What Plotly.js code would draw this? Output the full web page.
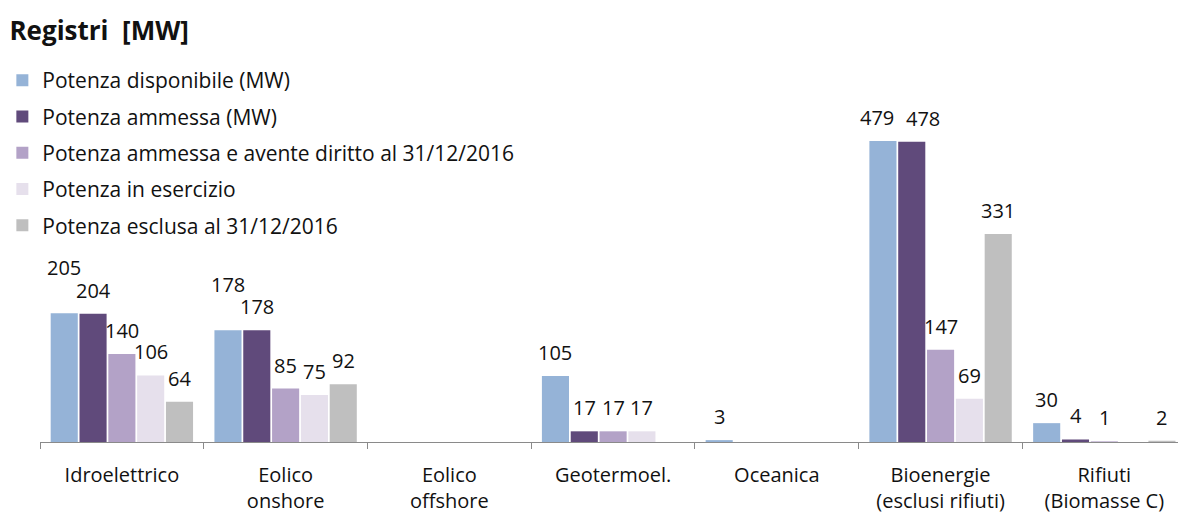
<!DOCTYPE html>
<html><head><meta charset="utf-8">
<script src="https://cdn.plot.ly/plotly-3.0.1.min.js"></script>
<style>html,body{margin:0;padding:0;background:#fff}#chart{width:1178px;height:515px}</style>
</head><body><div id="chart"></div>
<script>
// ---- data ----
const categories = ["Idroelettrico", "Eolico<br>onshore", "Eolico<br>offshore", "Geotermoel.", "Oceanica", "Bioenergie<br>(esclusi rifiuti)", "Rifiuti<br>(Biomasse C)"];
const seriesNames = ["Potenza disponibile (MW)", "Potenza ammessa (MW)", "Potenza ammessa e avente diritto al 31/12/2016", "Potenza in esercizio", "Potenza esclusa al 31/12/2016"];
const potenzaDisponibile = [205, 178, null, 105, 3, 479, 30];
const potenzaAmmessa = [204, 178, null, 17, null, 478, 4];
const potenzaAmmessaAvente = [140, 85, null, 17, null, 147, 1];
const potenzaInEsercizio = [106, 75, null, 17, null, 69, null];
const potenzaEsclusa = [64, 92, null, null, null, 331, 2];

// ---- style ----
const colors = ["#95B3D7", "#604A7B", "#B3A2C7", "#E6E0EC", "#BFBFBF"];
const FONT = "'Open Sans', 'Noto Sans', sans-serif";
const BARGAP = 0.12;
// manual label placement tweaks (pixels): key "category,series" -> [dx, dy]
const labelNudge = {"0,0": [0, 22], "1,0": [0, 22], "5,0": [-6, 0], "5,1": [11, 0]};

const seriesValues = [potenzaDisponibile, potenzaAmmessa, potenzaAmmessaAvente, potenzaInEsercizio, potenzaEsclusa];
const nS = seriesValues.length;

const traces = seriesValues.map((vals, i) => ({
  type: "bar",
  name: seriesNames[i],
  x: categories,
  y: vals,
  marker: {color: colors[i], line: {width: 0}},
  legendgroup: "g" + i,
  hoverinfo: "skip"
}));

const annotations = [];
const slot = (1 - BARGAP) / nS;
seriesValues.forEach((vals, s) => {
  vals.forEach((v, c) => {
    if (v === null || v === undefined) return;
    const n = labelNudge[c + "," + s] || [0, 0];
    annotations.push({
      x: c + (s - (nS - 1) / 2) * slot, xref: "x",
      y: v, yref: "y",
      text: String(v), showarrow: false,
      xanchor: "center", yanchor: "bottom",
      xshift: n[0], yshift: 8 + n[1],
      font: {family: FONT, size: 20, color: "#111"}
    });
  });
});

const layout = {
  width: 1178, height: 515,
  paper_bgcolor: "#fff", plot_bgcolor: "#fff",
  margin: {l: 40, r: 0, t: 65, b: 73, pad: 0, autoexpand: false},
  font: {family: FONT, size: 20, color: "#111"},
  title: {text: "<b>Registri&nbsp; [MW]</b>", font: {family: FONT, size: 26, color: "#111"},
          xref: "container", x: 0.008, xanchor: "left", yref: "container", y: 1 - 31 / 515, yanchor: "middle"},
  barmode: "group", bargap: BARGAP, bargroupgap: 0.06,
  showlegend: true,
  legend: {orientation: "v", xref: "container", x: 0.002, xanchor: "left", yref: "container", y: 1 - 60 / 515, yanchor: "top",
           font: {family: FONT, size: 21, color: "#111"}, tracegroupgap: 6, bgcolor: "rgba(0,0,0,0)", traceorder: "grouped"},
  xaxis: {type: "category", range: [-0.5, 6.45], showline: true, linecolor: "#8a8a8a", linewidth: 1,
          ticks: "outside", tickson: "boundaries", ticklen: 6, tickcolor: "#8a8a8a", tickwidth: 1, tickangle: 0,
          showgrid: false, zeroline: false, fixedrange: true, ticklabelstandoff: 15,
          tickfont: {family: FONT, size: 20, color: "#111"}},
  yaxis: {range: [0, 600], visible: false, showgrid: false, zeroline: false, fixedrange: true},
  annotations: annotations
};

Plotly.newPlot("chart", traces, layout, {displayModeBar: false, staticPlot: true});
</script>
</body></html>
